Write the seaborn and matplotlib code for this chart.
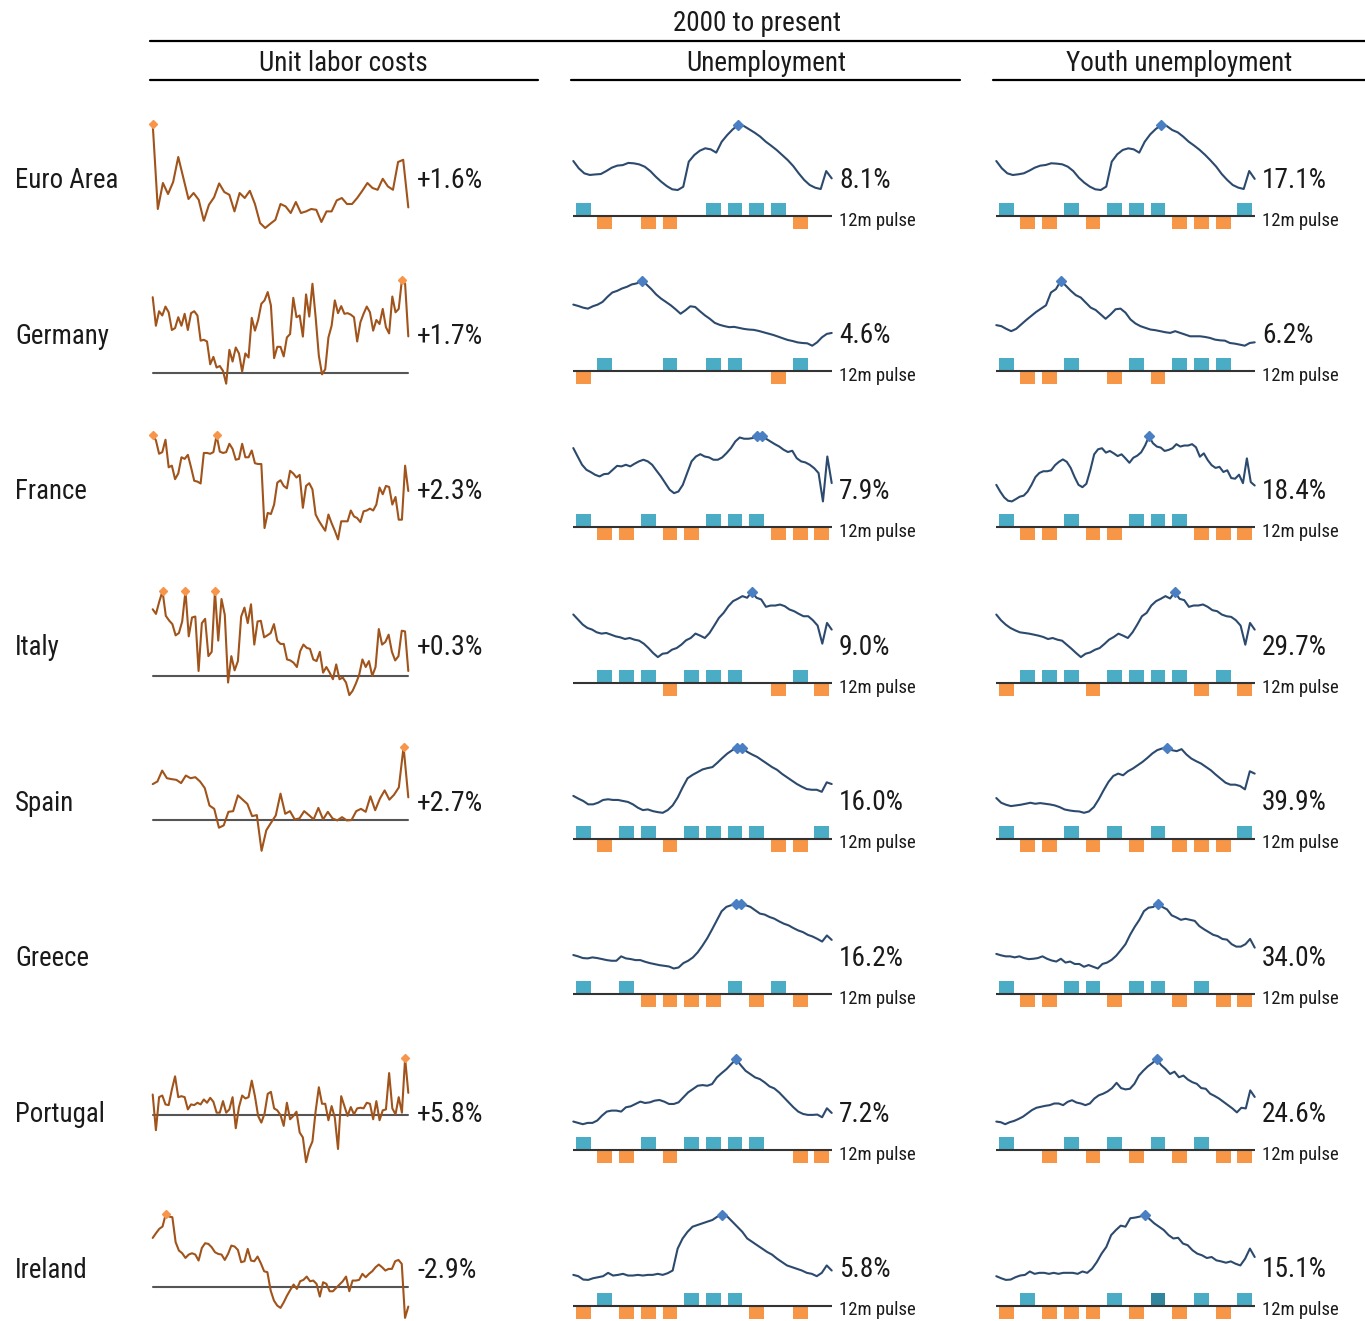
import os
import numpy as np
import matplotlib
matplotlib.use("Agg")
import matplotlib.pyplot as plt
import seaborn as sns
from matplotlib import font_manager
from matplotlib.font_manager import FontProperties
from matplotlib.lines import Line2D

countries = ['Euro Area', 'Germany', 'France', 'Italy', 'Spain', 'Greece', 'Portugal', 'Ireland']

ulc_labels = ['+1.6%', '+1.7%', '+2.3%', '+0.3%', '+2.7%', '', '+5.8%', '-2.9%']
unemp_labels = ['8.1%', '4.6%', '7.9%', '9.0%', '16.0%', '16.2%', '7.2%', '5.8%']
youth_labels = ['17.1%', '6.2%', '18.4%', '29.7%', '39.9%', '34.0%', '24.6%', '15.1%']

# unit labor costs, % change
ulc_euro = [5.77, 1.52, 2.82, 2.27, 2.87, 4.12, 3.07, 2.02, 2.32, 1.98, 0.93, 1.73, 2.10, 2.80, 2.37, 2.23, 1.40,
            2.32, 2.07, 2.43, 1.77, 0.82, 0.57, 0.78, 0.98, 1.77, 1.65, 1.32, 1.87, 1.32, 1.40, 1.52, 1.48, 0.87,
            1.40, 1.40, 1.95, 2.07, 1.77, 1.77, 2.07, 2.43, 2.82, 2.57, 2.48, 3.03, 2.65, 2.48, 3.87, 3.98, 1.60]
ulc_germany = [3.54, 2.20, 2.88, 2.68, 3.10, 2.83, 2.00, 2.09, 2.60, 2.20, 2.76, 2.00, 2.79, 2.88, 2.68, 1.50, 1.54,
               1.46, 0.39, 0.74, 0.24, 0.31, 0.08, -0.52, 1.07, 0.52, 1.18, 0.90, 0.05, 0.90, 0.71, 2.57, 1.97, 2.47,
               3.23, 3.39, 3.78, 3.15, 0.68, 1.21, 1.21, 0.76, 1.65, 1.81, 3.51, 2.60, 2.68, 1.69, 3.67, 2.63, 4.17,
               2.60, 0.79, -0.08, 0.16, 1.65, 2.20, 3.39, 2.79, 3.12, 2.76, 2.79, 2.72, 2.60, 1.46, 2.36, 2.76, 3.10,
               2.83, 1.97, 2.47, 2.28, 2.99, 2.13, 1.84, 3.57, 2.83, 2.99, 4.36, 4.17, 1.70]
ulc_france = [4.36, 4.18, 3.68, 3.74, 4.20, 3.18, 3.24, 2.74, 2.95, 3.55, 3.49, 3.64, 3.18, 2.68, 2.65, 2.58, 3.71,
              3.71, 3.68, 3.74, 4.36, 3.76, 3.71, 3.74, 4.05, 3.86, 3.46, 3.49, 4.05, 3.55, 3.55, 3.80, 3.33, 3.30,
              3.30, 0.93, 1.49, 1.45, 1.80, 2.61, 2.70, 2.49, 2.40, 3.05, 2.95, 2.80, 2.90, 1.68, 2.49, 2.59, 2.36,
              1.43, 1.20, 1.01, 0.83, 1.43, 1.11, 0.83, 0.51, 1.18, 1.18, 1.18, 1.58, 1.36, 1.30, 1.15, 1.55, 1.58,
              1.65, 1.58, 1.80, 2.43, 2.18, 2.49, 2.45, 1.80, 2.08, 1.24, 1.24, 3.24, 2.30]
ulc_italy = [4.04, 3.76, 4.50, 5.14, 3.64, 3.36, 3.14, 2.46, 2.60, 3.30, 5.14, 2.40, 3.54, 3.60, 0.30, 3.20, 3.46,
             1.20, 1.46, 5.14, 2.14, 4.66, 3.70, -0.40, 1.20, 0.34, 0.90, 3.60, 4.14, 3.20, 4.34, 1.90, 3.30, 3.34,
             2.34, 2.46, 2.60, 3.14, 2.14, 1.94, 1.94, 1.00, 0.94, 0.80, 0.54, 1.50, 1.90, 1.70, 1.64, 1.00, 0.90,
             1.46, 0.20, 0.54, 0.20, -0.20, 0.70, -0.20, -0.10, -0.40, -1.16, -0.90, -0.46, 0.06, 1.00, 0.54, 0.90,
             0.00, 0.54, 2.84, 1.90, 2.06, 2.50, 1.46, 0.94, 1.20, 2.74, 2.70, 0.30]
ulc_spain = [4.23, 4.54, 5.81, 4.92, 4.81, 4.73, 4.35, 5.23, 4.92, 5.04, 4.54, 3.77, 1.73, 1.35, -0.85, -0.58, 1.00,
             1.08, 2.92, 2.42, 1.92, 0.50, 0.62, -3.54, -1.15, -0.27, 0.58, 3.12, 0.77, 1.08, 0.12, 0.23, 1.08, 0.62,
             0.12, 1.46, 0.12, 1.00, 0.23, 0.00, 0.38, 0.00, 0.04, 1.08, 1.35, 1.00, 2.81, 1.19, 2.54, 3.50, 2.42,
             3.00, 3.85, 8.58, 2.69]
ulc_greece = []
ulc_portugal = [5.35, -4.12, 4.65, 5.09, 2.72, 2.54, 6.67, 10.18, 4.65, 4.91, 4.65, 1.40, 2.72, 2.54, 3.16, 2.72,
                4.04, 3.16, 4.47, 3.42, 0.53, 0.53, 3.60, 0.53, 1.40, 4.65, -3.60, 2.02, 5.09, 4.30, 4.65, 9.04, 4.91,
                -0.35, -2.11, 0.26, 5.53, 6.05, 1.67, 1.14, -0.09, -2.98, 3.16, -1.23, -0.35, 0.79, -4.74, -6.05,
                -12.63, -9.12, -7.11, 0.96, 7.28, 2.89, 2.89, -1.49, 2.28, -0.79, -9.12, 4.91, 2.28, -0.35, 2.02, 0.09,
                1.67, 1.84, 1.67, 3.16, 2.89, -1.23, 3.60, -1.49, 1.14, 1.40, 11.05, 1.67, 0.09, 4.65, 0.53, 15.0, 5.79]
ulc_ireland = [7.05, 7.73, 8.36, 8.70, 10.53, 10.14, 10.05, 6.43, 5.22, 4.83, 4.15, 4.64, 4.83, 4.64, 3.77, 5.60,
               6.28, 6.18, 5.70, 4.98, 4.73, 4.64, 3.86, 4.73, 5.94, 5.80, 5.31, 3.53, 3.67, 5.46, 3.77, 3.67, 4.35,
               3.38, 2.22, 2.08, -0.58, -2.03, -2.75, -3.09, -2.27, -1.30, -0.48, 0.29, -0.34, 0.77, 0.97, 1.45, 0.77,
               0.87, 0.39, -1.45, 0.63, 0.39, -0.68, -0.68, -0.19, 0.29, 0.77, 1.45, -0.68, 0.87, 0.87, 0.97, 1.84,
               1.35, 1.84, 2.22, 2.80, 3.19, 2.80, 2.32, 2.56, 2.56, 3.67, 3.86, 3.29, -4.54, -2.90]

# unemployment rate, %
unemp_euro = [9.44, 8.90, 8.53, 8.41, 8.45, 8.48, 8.70, 8.95, 9.10, 9.14, 9.30, 9.27, 9.19, 9.02, 8.70, 8.28, 7.91,
              7.59, 7.35, 7.30, 7.54, 9.39, 9.88, 10.20, 10.38, 10.30, 10.06, 10.87, 11.36, 11.78, 12.10, 12.03, 11.78,
              11.53, 11.24, 10.87, 10.57, 10.25, 9.88, 9.51, 9.07, 8.53, 8.04, 7.67, 7.47, 7.37, 8.70, 8.16]
unemp_germany = [8.18, 8.01, 7.80, 7.67, 7.97, 8.18, 8.52, 9.16, 9.71, 9.92, 10.22, 10.43, 10.73, 10.86, 11.20, 10.73,
                 10.14, 9.46, 8.94, 8.52, 8.09, 7.58, 7.03, 7.46, 7.97, 7.88, 7.33, 6.82, 6.39, 5.88, 5.63, 5.46, 5.33,
                 5.37, 5.24, 5.11, 5.03, 4.99, 4.86, 4.69, 4.52, 4.35, 4.14, 3.92, 3.71, 3.58, 3.41, 3.33, 3.29, 2.99,
                 3.41, 4.05, 4.48, 4.60]
unemp_france = [9.85, 9.38, 8.92, 8.64, 8.51, 8.36, 8.27, 8.40, 8.42, 8.64, 8.86, 8.83, 8.92, 8.83, 8.98, 9.11, 9.20,
                9.11, 8.92, 8.59, 8.27, 7.90, 7.53, 7.34, 7.43, 7.80, 8.46, 9.11, 9.38, 9.51, 9.38, 9.33, 9.20, 9.20,
                9.33, 9.57, 9.85, 10.22, 10.44, 10.37, 10.37, 10.41, 10.50, 10.50, 10.37, 10.22, 10.07, 9.94, 9.76,
                9.63, 9.70, 9.29, 9.11, 9.05, 8.92, 8.73, 8.46, 6.88, 9.38, 7.90]
unemp_italy = [10.65, 10.10, 9.55, 9.18, 9.00, 8.70, 8.56, 8.63, 8.45, 8.26, 8.15, 7.97, 8.08, 7.90, 7.79, 7.46, 6.98,
               6.43, 5.99, 6.36, 6.43, 6.80, 6.98, 7.35, 7.83, 8.08, 8.56, 8.34, 8.08, 8.63, 9.44, 10.28, 10.83, 11.56,
               12.11, 12.37, 12.66, 12.48, 13.10, 12.48, 12.29, 11.49, 11.63, 11.63, 11.74, 11.56, 11.20, 11.01,
               10.72, 10.46, 10.46, 10.02, 9.44, 7.46, 9.73, 9.00]
unemp_spain = [12.65, 11.88, 11.20, 10.24, 10.24, 10.72, 11.49, 11.68, 11.49, 11.49, 11.20, 10.92, 10.24, 9.28, 8.61,
               8.80, 8.32, 8.03, 7.84, 8.61, 9.95, 12.17, 15.05, 17.65, 18.61, 19.38, 20.15, 20.53, 20.82, 22.07,
               23.42, 24.67, 25.63, 26.30, 26.30, 25.15, 24.38, 23.70, 22.74, 21.78, 20.82, 20.05, 18.90, 17.93,
               16.97, 16.01, 15.24, 14.57, 14.38, 14.38, 13.80, 16.49, 16.01]
unemp_greece = [11.37, 10.94, 10.40, 10.29, 10.61, 10.40, 10.08, 9.75, 9.54, 9.54, 10.94, 10.29, 10.08, 9.75, 9.75,
                9.22, 8.79, 8.47, 8.14, 7.93, 7.71, 7.07, 7.39, 8.79, 9.54, 10.61, 12.23, 14.37, 16.74, 19.53, 22.43,
                25.33, 26.73, 27.26, 27.80, 27.80, 27.26, 26.73, 25.65, 24.58, 24.26, 23.50, 22.97, 22.11, 21.36,
                20.82, 19.96, 19.21, 18.67, 17.81, 17.27, 16.52, 15.66, 17.60, 16.20]
unemp_portugal = [5.64, 5.39, 5.15, 5.39, 5.39, 5.82, 6.73, 7.47, 7.65, 7.65, 7.47, 8.26, 8.44, 8.87, 9.30, 9.05, 9.17,
                  9.48, 9.60, 9.30, 8.87, 8.87, 9.17, 10.09, 11.00, 11.61, 12.22, 12.34, 12.22, 12.53, 13.75, 14.54,
                  15.27, 16.19, 17.10, 16.00, 14.97, 14.36, 13.75, 13.44, 12.83, 12.10, 11.73, 11.00, 10.09, 9.17, 8.26,
                  7.47, 7.04, 6.86, 6.86, 6.92, 6.43, 8.08, 7.22]
unemp_ireland = [5.01, 4.77, 4.15, 4.09, 4.40, 4.58, 4.77, 5.38, 4.89, 5.01, 5.20, 4.89, 4.89, 5.01, 4.89, 5.01, 5.01,
                 5.20, 5.01, 5.32, 5.81, 9.83, 11.68, 12.91, 13.84, 14.15, 14.46, 14.77, 15.07, 15.69, 16.00,
                 15.69, 14.77, 13.84, 12.91, 11.68, 11.06, 10.44, 9.83, 9.21, 8.72, 7.98, 7.36, 6.74, 6.43, 6.12, 5.81,
                 5.38, 5.20, 4.77, 5.38, 6.74, 5.81]

# youth unemployment rate, %
youth_euro = [19.34, 18.40, 17.75, 17.53, 17.62, 17.75, 18.09, 18.48, 18.74, 18.83, 19.05, 19.00, 18.91, 18.61, 18.05,
              17.19, 16.54, 16.03, 15.68, 15.59, 16.03, 19.26, 20.21, 20.77, 20.98, 20.85, 20.42, 21.84, 22.79, 23.48,
              24.00, 23.87, 23.35, 23.05, 22.49, 21.84, 21.33, 20.77, 20.12, 19.39, 18.61, 17.66, 16.89, 16.24, 15.90,
              15.72, 18.05, 17.03]
youth_germany = [8.80, 8.65, 8.24, 7.89, 8.24, 8.90, 9.56, 10.17, 10.78, 11.29, 11.79, 13.72, 14.23, 15.50, 14.74,
                 13.98, 13.32, 12.96, 12.20, 11.44, 11.08, 10.42, 9.76, 10.42, 11.19, 11.29, 10.68, 9.66, 9.05, 8.65,
                 8.39, 8.14, 8.04, 7.89, 7.73, 7.63, 7.89, 7.63, 7.38, 7.12, 7.12, 7.12, 7.02, 6.87, 6.62, 6.51, 6.46,
                 6.11, 6.01, 5.86, 5.70, 6.11, 6.21]
youth_france = [18.51, 17.47, 16.58, 16.05, 15.95, 16.31, 16.68, 16.84, 17.47, 18.51, 19.72, 20.35, 20.61, 20.61,
                20.76, 21.55, 22.07, 22.44, 22.07, 21.13, 19.72, 18.51, 18.15, 18.67, 20.76, 23.23, 24.01, 24.17, 23.49,
                23.75, 23.38, 22.96, 23.23, 22.60, 21.92, 22.70, 23.02, 23.54, 24.59, 26.00, 24.95, 24.43, 24.27, 23.75,
                23.91, 24.17, 24.80, 24.43, 24.59, 24.59, 24.80, 24.32, 22.86, 23.38, 22.34, 21.55, 21.13, 21.29, 20.50,
                20.76, 19.56, 19.46, 20.08, 18.77, 22.60, 18.93, 18.41]
youth_italy = [35.04, 33.02, 31.48, 30.29, 29.46, 28.75, 28.51, 28.27, 27.92, 27.56, 27.09, 26.37, 26.73, 26.14, 25.78,
               24.35, 22.93, 21.38, 19.96, 21.15, 21.62, 22.57, 23.17, 24.59, 26.14, 27.09, 28.27, 27.56, 26.73, 28.75,
               31.48, 34.45, 35.64, 38.25, 39.79, 40.62, 41.57, 40.74, 43.00, 40.62, 40.15, 37.77, 38.25, 38.25, 38.61,
               37.77, 36.59, 36.23, 35.04, 34.45, 34.21, 33.02, 31.12, 24.35, 32.07, 29.70]
youth_spain = [25.14, 22.30, 21.09, 20.28, 20.68, 21.09, 21.69, 22.30, 21.69, 22.10, 21.69, 21.29, 20.68, 19.67, 18.25,
               17.65, 17.24, 17.04, 16.23, 17.04, 19.67, 24.33, 29.79, 34.85, 38.50, 39.91, 38.90, 41.33, 42.95, 44.97,
               47.00, 49.43, 52.06, 54.08, 55.10, 55.50, 54.08, 53.48, 54.69, 51.45, 49.02, 47.40, 45.99, 43.96, 41.94,
               39.31, 36.88, 34.45, 33.23, 33.23, 32.42, 30.40, 41.33, 39.91]
youth_greece = [30.46, 29.67, 29.08, 29.08, 28.49, 29.08, 28.09, 27.50, 27.70, 28.09, 29.08, 27.70, 26.72, 26.13,
                27.70, 25.54, 26.13, 24.75, 24.75, 23.17, 24.16, 23.17, 22.19, 24.75, 25.54, 27.11, 29.47, 32.62, 35.97,
                41.28, 45.81, 49.75, 54.67, 56.64, 57.03, 59.00, 57.03, 55.65, 52.31, 51.13, 49.75, 50.34, 49.75, 49.16,
                46.20, 44.43, 42.86, 41.28, 40.50, 38.92, 38.53, 35.97, 34.59, 34.59, 35.97, 38.92, 34.00]
youth_portugal = [14.56, 14.30, 13.49, 14.30, 14.83, 15.64, 16.57, 17.91, 19.25, 20.19, 20.59, 20.99, 21.26, 21.93,
                  21.93, 21.26, 22.60, 23.27, 22.33, 21.93, 21.26, 21.93, 23.94, 25.27, 25.94, 26.88, 28.22, 30.36,
                  28.22, 27.68, 27.95, 29.96, 33.31, 35.31, 37.05, 38.39, 40.00, 37.59, 35.98, 33.98, 34.91, 32.64,
                  33.31, 31.70, 30.63, 29.96, 28.22, 27.95, 25.94, 25.01, 23.94, 22.60, 21.26, 19.92, 18.31, 20.19,
                  19.92, 27.28, 24.61]
youth_ireland = [8.31, 7.59, 7.00, 7.12, 7.95, 8.55, 8.78, 9.98, 9.14, 9.50, 9.50, 9.14, 9.50, 9.14, 9.50, 9.50, 9.50,
                 9.14, 9.98, 9.50, 10.93, 13.31, 16.29, 18.68, 22.85, 24.64, 26.19, 25.83, 28.81, 29.05, 29.40, 30.00,
                 28.57, 27.02, 25.83, 24.64, 22.85, 21.66, 21.90, 19.87, 19.27, 17.49, 16.29, 15.70, 14.74, 15.10,
                 13.91, 13.55, 13.08, 13.55, 12.72, 12.12, 14.51, 18.08, 15.10]

# 12m pulse: 1 up, -1 down, 0 none, 2 highlighted up
pulse_unemp = [
    [1, -1, 0, -1, -1, 0, 1, 1, 1, 1, -1, 0],
    [-1, 1, 0, 0, 1, 0, 1, 1, 0, -1, 1, 0],
    [1, -1, -1, 1, -1, -1, 1, 1, 1, -1, -1, -1],
    [0, 1, 1, 1, -1, 1, 1, 1, 0, -1, 1, -1],
    [1, -1, 1, 1, -1, 1, 1, 1, 1, -1, -1, 1],
    [1, 0, 1, -1, -1, -1, -1, 1, -1, 1, -1, 0],
    [1, -1, -1, 1, -1, 1, 1, 1, 1, 0, -1, -1],
    [-1, 1, -1, -1, -1, 1, 1, 1, -1, 0, -1, 0],
]
pulse_youth = [
    [1, -1, -1, 1, -1, 1, 1, 1, -1, -1, -1, 1],
    [1, -1, -1, 1, 0, -1, 1, -1, 1, 1, 1, 0],
    [1, -1, -1, 1, -1, -1, 1, 1, 1, -1, -1, -1],
    [-1, 1, 1, 1, -1, 1, 1, 1, 1, -1, 1, -1],
    [1, -1, -1, 1, -1, 1, -1, 1, -1, -1, -1, 1],
    [1, -1, -1, 1, 1, -1, 1, 1, -1, 1, -1, -1],
    [1, 0, -1, 1, -1, 1, -1, 1, -1, 1, -1, -1],
    [-1, 1, -1, -1, -1, 1, -1, 2, -1, 1, -1, 1],
]

ulc = [ulc_euro, ulc_germany, ulc_france, ulc_italy, ulc_spain, ulc_greece, ulc_portugal, ulc_ireland]
unemp = [unemp_euro, unemp_germany, unemp_france, unemp_italy, unemp_spain, unemp_greece, unemp_portugal, unemp_ireland]
youth = [youth_euro, youth_germany, youth_france, youth_italy, youth_spain, youth_greece, youth_portugal, youth_ireland]

sns.set_style('white')

# pick a narrow face if one is installed
entries = font_manager.fontManager.ttflist


def find_font(pred):
    for f in entries:
        if pred(f):
            return f.fname
    return None


def plain(f):
    b = os.path.basename(f.fname).lower()
    return f.style == 'normal' and not any(k in b for k in ('bold', 'oblique', 'italic', 'light', 'thin', 'black', 'medium'))


FONT_PATH = (find_font(lambda f: f.name == 'Liberation Sans Narrow' and plain(f))
             or find_font(lambda f: f.name == 'Roboto Condensed' and plain(f))
             or find_font(lambda f: 'condensed' in os.path.basename(f.fname).lower() and 'dejavusans' in os.path.basename(f.fname).lower() and plain(f))
             or find_font(lambda f: f.name == 'Roboto' and plain(f))
             or font_manager.findfont('DejaVu Sans'))

ULC_COLOR = '#a0541b'
ULC_MARK = '#f7964a'
UNEMP_COLOR = '#2c4a6e'
UNEMP_MARK = '#4a7fc4'
PULSE_COLORS = {1: '#4bacc6', -1: '#f79646', 0: '#ffffff', 2: '#31859c'}
TEXT = '#1a1a1a'

W, H = 1365, 1321
fig = plt.figure(figsize=(W / 100, H / 100), dpi=100)
renderer = fig.canvas.get_renderer()


def fit(s, target_px):
    t = fig.text(0, 0, s, fontproperties=FontProperties(fname=FONT_PATH, size=20))
    w = t.get_window_extent(renderer=renderer).width
    t.remove()
    return 20 * target_px / w * 1.05


SIZE_HEAD = fit('Unemployment', 152)
SIZE_ROW = fit('Euro Area', 98)
SIZE_VAL = fit('16.0%', 62)
SIZE_ULC = fit('+1.6%', 63)
SIZE_PULSE = fit('12m pulse', 73)


def add_ax(x0, y0, x1, y1):
    ax = fig.add_axes([x0 / W, 1 - y1 / H, (x1 - x0) / W, (y1 - y0) / H])
    ax.axis('off')
    return ax


def txt(x, y, s, size, **kw):
    fig.text(x / W, 1 - y / H, s, fontproperties=FontProperties(fname=FONT_PATH, size=size), color=TEXT, **kw)


def hline(x0, x1, y, lw=1.6, color='black'):
    fig.add_artist(Line2D([x0 / W, x1 / W], [1 - y / H, 1 - y / H], color=color, lw=lw))


def spark(ax, vals, color, mcolor, lw, msize, zero_line=False):
    vals = np.asarray(vals, dtype=float)
    x = np.arange(len(vals))
    if zero_line and vals.min() < 0 < vals.max():
        ax.axhline(0, color='#555555', lw=1.5, zorder=1)
    sns.lineplot(x=x, y=vals, ax=ax, color=color, linewidth=lw, zorder=2)
    top = vals == vals.max()
    ax.plot(x[top], vals[top], linestyle='none', marker='D', markersize=msize, color=mcolor, zorder=3)
    for ln in ax.lines:
        ln.set_clip_on(False)
    ax.set_xlim(0, len(vals) - 1)
    ax.set_ylim(vals.min(), vals.max())
    ax.axis('off')


def pulse(ax, vals):
    vals = np.asarray(vals)
    pos = np.arange(len(vals))
    ax.bar(pos, np.clip(vals, -1, 1), width=0.69, color=[PULSE_COLORS[v] for v in vals], linewidth=0)
    ax.axhline(0, color='#333333', lw=1.5)
    ax.set_xlim(-0.46, 11.46)
    ax.set_ylim(-14 / 13, 14 / 13)
    ax.axis('off')


# headers
txt(757, 31, '2000 to present', SIZE_HEAD, ha='center', va='baseline')
hline(150, 1365, 41)
for cx, title in [(343, 'Unit labor costs'), (766, 'Unemployment'), (1179, 'Youth unemployment')]:
    txt(cx, 71, title, SIZE_HEAD, ha='center', va='baseline')
hline(150, 538, 80)
hline(571, 960, 80)
hline(993, 1365, 80)

for r, name in enumerate(countries):
    c = 178 + 155.7 * r
    txt(15, c + 10, name, SIZE_ROW, ha='left', va='baseline')

    if len(ulc[r]):
        ax = add_ax(152.7, c - 54, 408.3, c + 50)
        spark(ax, ulc[r], ULC_COLOR, ULC_MARK, 1.5, 4.5, zero_line=True)
        txt(417, c + 10, ulc_labels[r], SIZE_ULC, ha='left', va='baseline')

    for off, series, plist, labels in [(0, unemp, pulse_unemp, unemp_labels),
                                       (423, youth, pulse_youth, youth_labels)]:
        ax = add_ax(573.3 + off, c - 53, 831.7 + off, c + 12)
        spark(ax, series[r], UNEMP_COLOR, UNEMP_MARK, 1.5, 5.5)
        pax = add_ax(573.3 + off, c + 37.7 - 14, 831.7 + off, c + 37.7 + 14)
        pulse(pax, plist[r])
        txt(840 + off - 1, c + 9.5, labels[r], SIZE_VAL, ha='left', va='baseline')
        txt(840 + off - 1, c + 47.5, '12m pulse', SIZE_PULSE, ha='left', va='baseline')

fig.savefig('out.png', dpi=100)
